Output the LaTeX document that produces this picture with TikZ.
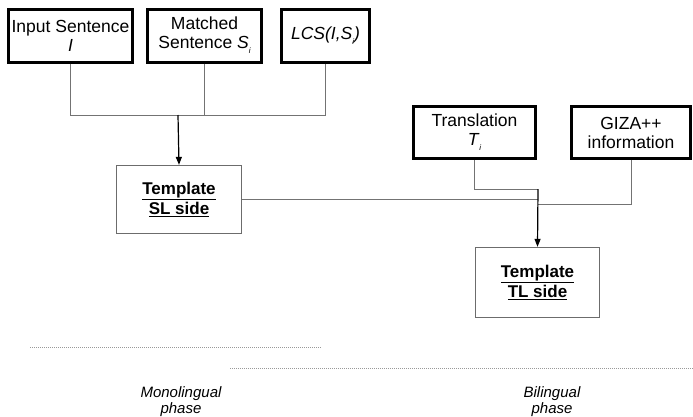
\documentclass[tikz,border=0pt]{standalone}
\usepackage{fontspec}
\setmainfont{Liberation Sans}
\usepackage{tikz}
\usetikzlibrary{positioning,calc,arrows.meta}

\newcommand{\subidx}{\raisebox{-0.55ex}{\fontsize{8}{8}\selectfont\itshape i}}

\begin{document}
\begin{tikzpicture}[
		x=1pt, y=-1pt,
		inbox/.style={rectangle, draw=black, line width=3pt, inner sep=0pt, align=center, font=\fontsize{17.5}{19}\selectfont},
		tplbox/.style={rectangle, draw=gray!85!black, line width=1.3pt, inner sep=0pt, align=center, font=\fontsize{17}{20}\selectfont\bfseries},
		conn/.style={gray!90!black, line width=1pt},
		arrow/.style={-{Triangle[length=8pt,width=6pt]}, black, line width=1.2pt},
		sep/.style={gray!80, line width=1pt, dash pattern=on 1pt off 1pt},
		phasetext/.style={font=\fontsize{15}{16}\selectfont\itshape, align=center}
	]
	\useasboundingbox (0,0) rectangle (693,416);
	
	% ===== INPUTS =====
	\node[inbox, minimum width=124pt, minimum height=53pt] (inp) at (70.5,35.5) {Input Sentence\\\textit{I}};
	\node[inbox, minimum width=114pt, minimum height=53pt] (mat) at (204.5,35.5) {Matched\\Sentence \textit{S}\subidx};
	\node[inbox, minimum width=88pt, minimum height=53pt] (lcs) at (325.5,35.5) {\textit{LCS(I,S}\subidx\textit{)}};
	
	\node[inbox, minimum width=122pt, minimum height=52pt] (tra) at (474.5,132.5) {Translation\\\textit{T}\subidx};
	\node[inbox, minimum width=119pt, minimum height=52pt] (giza) at (631,132.5) {GIZA++\\information};
	
	% ===== TEMPLATES =====
	\node[tplbox, minimum width=125pt, minimum height=68pt] (sl) at (179,199.5) {\underline{Template}\\\underline{SL side}};
	\node[tplbox, minimum width=124pt, minimum height=70pt] (tl) at (537.5,282.5) {\underline{Template}\\\underline{TL side}};
	
	% ===== JOINTS =====
	\coordinate (j1) at (178,115);
	\coordinate (j2) at (538,189);
	\coordinate (j3) at (538,204);
	
	% ===== CONNECTORS =====
	\draw[conn] (inp.south) |- (j1);
	\draw[conn] (lcs.south) |- (j1);
	\draw[conn] (mat.south) -- (mat.south |- j1);
	\draw[arrow] (j1) -- (sl.north);
	
	\draw[conn] (tra.south) |- (j2);
	\draw[conn] (giza.south) |- (j3);
	\draw[conn] (sl.east) -- (sl.east -| j2);
	\draw[arrow] (j2) -- (tl.north);
	
	% ===== PHASES =====
	\coordinate (m1) at (30,347);
	\coordinate (m2) at (322,347);
	\coordinate (b1) at (230,368);
	\coordinate (b2) at (693,368);
	\draw[sep] (m1) -- (m2);
	\draw[sep] (b1) -- (b2);
	
	\node[phasetext] (mono) at (181,402) {Monolingual\\phase};
	\node[phasetext] (bili) at (552,402) {Bilingual\\phase};
\end{tikzpicture}
\end{document}
